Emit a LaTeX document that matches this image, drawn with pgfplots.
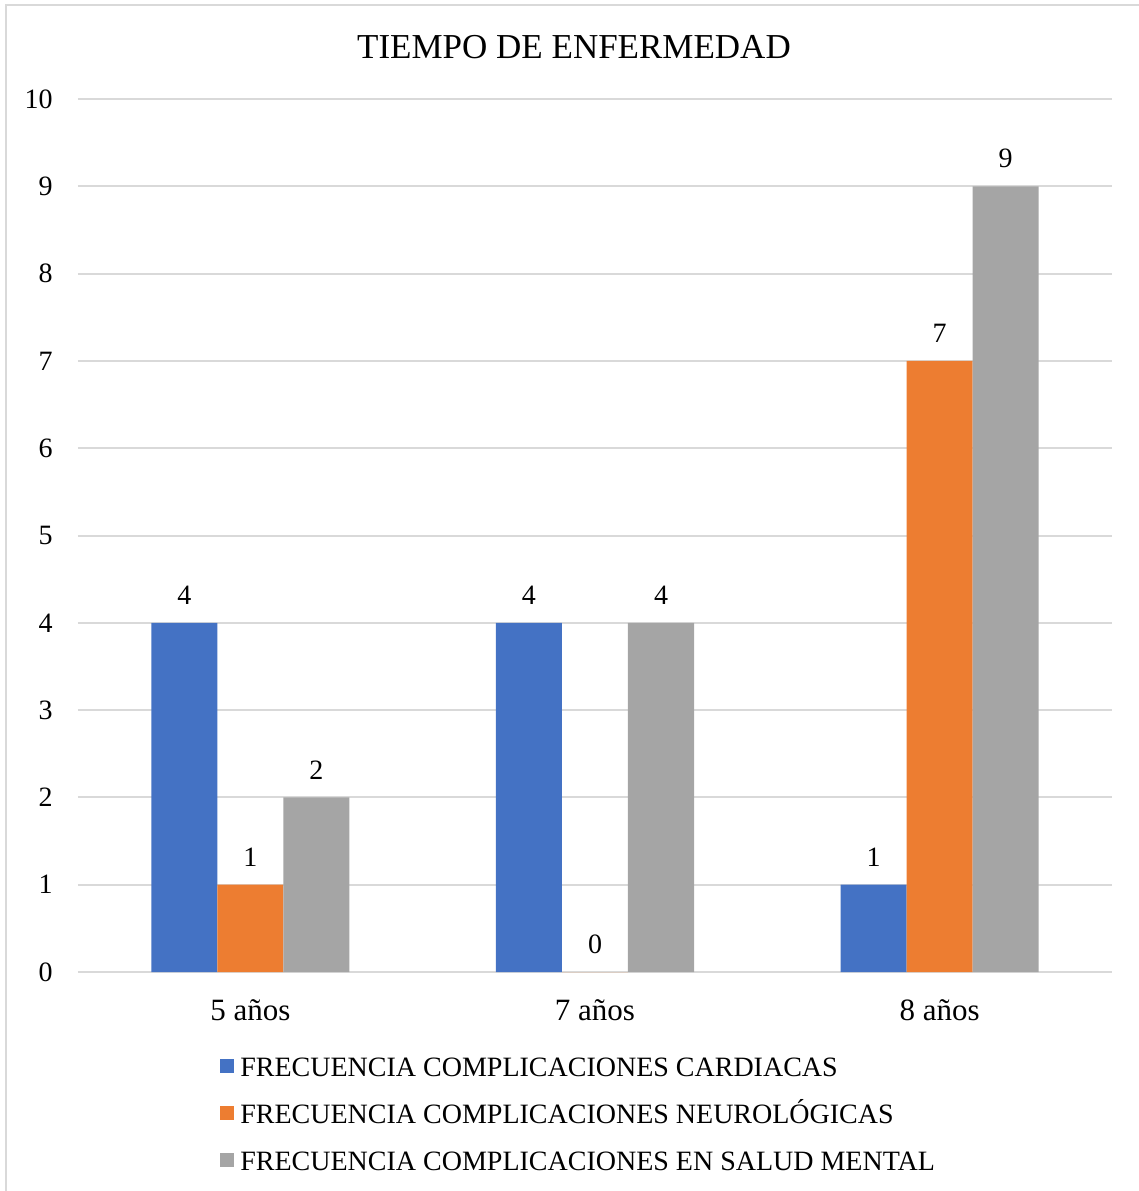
\documentclass[border=0pt]{standalone}
\usepackage{pgfplots}
\pgfplotsset{compat=1.18}
\usepackage{fontspec}
\setmainfont{Liberation Serif}

\definecolor{serA}{HTML}{4472C4}
\definecolor{serB}{HTML}{ED7D31}
\definecolor{serC}{HTML}{A5A5A5}
\definecolor{gridgray}{HTML}{D9D9D9}

\newcommand{\lblfont}{\fontsize{14pt}{16.5pt}\selectfont}
\newcommand{\catfont}{\fontsize{15.5pt}{18pt}\selectfont}

\begin{document}
\begin{tikzpicture}
\begin{axis}[
  at={(0,0)}, anchor=south west,
  scale only axis,
  width=517pt, height=436.5pt,
  xmin=-0.5, xmax=2.5,
  ymin=0, ymax=10,
  xtick={0,1,2},
  xticklabels={5 años,7 años,8 años},
  ytick={0,1,...,10},
  major tick length=0pt,
  axis line style={draw=none},
  ymajorgrids,
  grid style={gridgray, line width=1pt},
  /pgf/number format/assume math mode=true,
  tick label style={text=black},
  yticklabel style={font=\lblfont, anchor=east, inner sep=0pt, xshift=-12.5pt},
  xticklabel style={font=\catfont, anchor=north, inner sep=0pt, yshift=-13.5pt},
  ybar, bar width=33pt,
  nodes near coords,
  every node near coord/.append style={font=\lblfont, text=black, inner sep=0pt, anchor=south, yshift=9pt},
  legend image code/.code={\fill[#1] (0pt,-3pt) rectangle (7pt,4pt);},
  legend style={draw=none, fill=none, at={(68pt,-41pt)}, anchor=north west,
    font=\lblfont, cells={anchor=west},
    nodes={inner sep=0pt, text height=9pt, text depth=0pt},
    row sep=14.5pt, column sep=3pt},
]
\addplot[fill=serA, draw=none, bar shift=-33pt] coordinates {(0,4) (1,4) (2,1)};
\addplot[fill=serB, draw=none, bar shift=0pt] coordinates {(0,1) (1,0) (2,7)};
\addplot[fill=serC, draw=none, bar shift=33pt] coordinates {(0,2) (1,4) (2,9)};
\legend{FRECUENCIA COMPLICACIONES CARDIACAS,
        FRECUENCIA COMPLICACIONES NEUROLÓGICAS,
        FRECUENCIA COMPLICACIONES EN SALUD MENTAL}
\end{axis}
\node[font=\fontsize{17.5pt}{21pt}\selectfont, inner sep=0pt] at (248pt,462.5pt) {TIEMPO DE ENFERMEDAD};
\pgfresetboundingbox
\path[use as bounding box] (-39pt,-109.5pt) rectangle (530.5pt,486pt);
\draw[gridgray, line width=1pt] (-36pt,-115pt) -- (-36pt,483.25pt) -- (535pt,483.25pt);
\end{tikzpicture}
\end{document}
